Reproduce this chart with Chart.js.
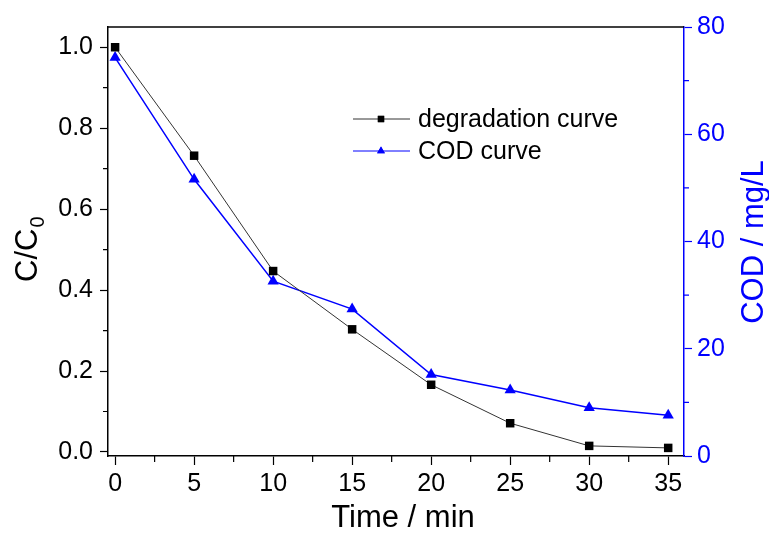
<!DOCTYPE html>
<html>
<head>
<meta charset="utf-8">
<script src="https://cdn.jsdelivr.net/npm/chart.js@4/dist/chart.umd.min.js"></script>
<style>
  html, body { margin: 0; padding: 0; background: #fff; }
  #wrap { width: 769px; height: 534px; }
</style>
</head>
<body>
<div id="wrap"><canvas id="chart" width="769" height="534"></canvas></div>
<script>
'use strict';

// time in minutes
const times = [0, 5, 10, 15, 20, 25, 30, 35];
// C/C0 (left axis)
const degradation = [1.0, 0.732, 0.447, 0.303, 0.166, 0.071, 0.015, 0.010];
// COD in mg/L (right axis)
const cod = [74.3, 51.6, 32.6, 27.4, 15.2, 12.3, 9.0, 7.6];

const xTicks = [0, 5, 10, 15, 20, 25, 30, 35];
const leftTicks = [0, 0.2, 0.4, 0.6, 0.8, 1.0];
const rightTicks = [0, 20, 40, 60, 80];

const BLUE = '#0000ff';
const FONT = 'Liberation Sans, Arial, sans-serif';

// minor ticks, frame top line, axis titles and legend
const decorations = {
  id: 'decorations',
  afterDraw(chart) {
    const { ctx, chartArea: a, scales } = chart;
    ctx.save();

    // top frame line
    ctx.strokeStyle = '#000';
    ctx.lineWidth = 1.5;
    ctx.beginPath();
    ctx.moveTo(a.left, a.top);
    ctx.lineTo(a.right, a.top);
    ctx.stroke();

    // minor ticks
    ctx.lineWidth = 1.2;
    ctx.beginPath();
    for (let v = 2.5; v < 36; v += 5) {
      const px = scales.x.getPixelForValue(v);
      ctx.moveTo(px, a.bottom);
      ctx.lineTo(px, a.bottom + 6);
    }
    for (let v = 0.1; v < 1.05; v += 0.2) {
      const py = scales.y.getPixelForValue(v);
      ctx.moveTo(a.left, py);
      ctx.lineTo(a.left - 5, py);
    }
    ctx.stroke();
    ctx.strokeStyle = BLUE;
    ctx.beginPath();
    for (let v = 10; v < 80; v += 20) {
      const py = scales.y1.getPixelForValue(v);
      ctx.moveTo(a.right, py);
      ctx.lineTo(a.right + 5, py);
    }
    ctx.stroke();

    // x title
    ctx.fillStyle = '#000';
    ctx.font = '31px ' + FONT;
    ctx.textAlign = 'center';
    ctx.textBaseline = 'alphabetic';
    ctx.fillText('Time / min', (a.left + a.right) / 2 + 7, 527);

    // left title with subscript
    ctx.save();
    ctx.translate(37, 282);
    ctx.rotate(-Math.PI / 2);
    ctx.textAlign = 'left';
    ctx.font = '31px ' + FONT;
    ctx.fillText('C/C', 0, 0);
    const w = ctx.measureText('C/C').width;
    ctx.font = '20px ' + FONT;
    ctx.fillText('0', w + 1, 7);
    ctx.restore();

    // right title
    ctx.save();
    ctx.translate(763, 242);
    ctx.rotate(-Math.PI / 2);
    ctx.textAlign = 'center';
    ctx.fillStyle = BLUE;
    ctx.font = '31px ' + FONT;
    ctx.fillText('COD / mg/L', 0, 0);
    ctx.restore();

    // legend
    const rows = [
      { label: 'degradation curve', color: '#000', line: '#333', style: 'rect', y: 119 },
      { label: 'COD curve', color: BLUE, line: BLUE, style: 'triangle', y: 151 }
    ];
    rows.forEach(r => {
      ctx.strokeStyle = r.line;
      ctx.lineWidth = 1;
      ctx.beginPath();
      ctx.moveTo(353, r.y);
      ctx.lineTo(410, r.y);
      ctx.stroke();
      ctx.fillStyle = r.color;
      Chart.helpers.drawPoint(ctx, { pointStyle: r.style, radius: 4.5, rotation: 0, borderWidth: 0 }, 381, r.y);
      ctx.fill();
      ctx.fillStyle = '#000';
      ctx.font = '25px ' + FONT;
      ctx.textAlign = 'left';
      ctx.textBaseline = 'middle';
      ctx.fillText(r.label, 418, r.y + 1);
    });

    ctx.restore();
  }
};

const ctx = document.getElementById('chart').getContext('2d');
new Chart(ctx, {
  type: 'line',
  data: {
    datasets: [
      {
        label: 'degradation curve',
        data: times.map((t, i) => ({ x: t, y: degradation[i] })),
        yAxisID: 'y',
        borderColor: '#333',
        borderWidth: 1,
        backgroundColor: '#000',
        pointBackgroundColor: '#000',
        pointBorderColor: '#000',
        pointStyle: 'rect',
        pointRadius: 6,
        pointBorderWidth: 0,
        tension: 0
      },
      {
        label: 'COD curve',
        data: times.map((t, i) => ({ x: t, y: cod[i] })),
        yAxisID: 'y1',
        borderColor: BLUE,
        borderWidth: 1.5,
        backgroundColor: BLUE,
        pointBackgroundColor: BLUE,
        pointBorderColor: BLUE,
        pointStyle: 'triangle',
        pointRadius: 6.5,
        pointBorderWidth: 0,
        tension: 0
      }
    ]
  },
  options: {
    responsive: false,
    animation: false,
    layout: { padding: { top: 27, left: 0, right: 0, bottom: 0 } },
    plugins: {
      legend: { display: false },
      tooltip: { enabled: false }
    },
    scales: {
      x: {
        type: 'linear',
        position: 'bottom',
        min: -0.45,
        max: 36,
        afterBuildTicks: s => { s.ticks = xTicks.map(v => ({ value: v })); },
        afterFit: s => { s.height = 78; },
        border: { display: true, color: '#000', width: 1.5 },
        grid: { display: true, drawOnChartArea: false, drawTicks: true, tickLength: 9, tickColor: '#000', tickWidth: 1.2 },
        ticks: { color: '#000', font: { family: FONT, size: 25 }, padding: 4, maxRotation: 0, callback: v => String(v) }
      },
      y: {
        type: 'linear',
        position: 'left',
        min: -0.01,
        max: 1.05,
        afterBuildTicks: s => { s.ticks = leftTicks.map(v => ({ value: v })); },
        afterFit: s => { s.width = 108; },
        border: { display: true, color: '#000', width: 1.5 },
        grid: { display: true, drawOnChartArea: false, drawTicks: true, tickLength: 8, tickColor: '#000', tickWidth: 1.2 },
        ticks: { color: '#000', font: { family: FONT, size: 25 }, padding: 7, callback: v => v.toFixed(1) }
      },
      y1: {
        type: 'linear',
        position: 'right',
        min: 0,
        max: 80,
        afterBuildTicks: s => { s.ticks = rightTicks.map(v => ({ value: v })); },
        afterFit: s => { s.width = 85; },
        border: { display: true, color: BLUE, width: 1.5 },
        grid: { display: true, drawOnChartArea: false, drawTicks: true, tickLength: 8, tickColor: BLUE, tickWidth: 1.2 },
        ticks: { color: BLUE, font: { family: FONT, size: 25 }, padding: 5, callback: v => String(v) }
      }
    }
  },
  plugins: [decorations]
});
</script>
</body>
</html>
